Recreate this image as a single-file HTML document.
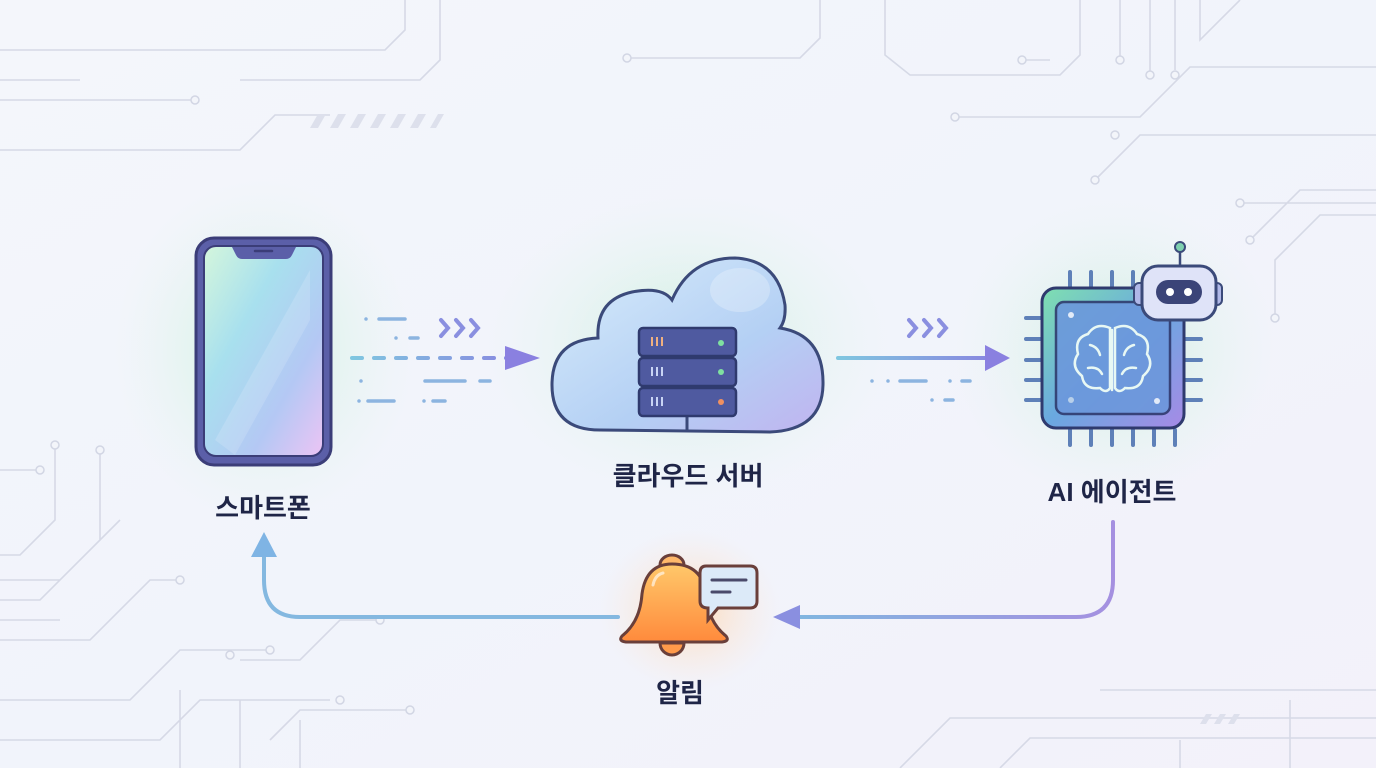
<!DOCTYPE html>
<html><head><meta charset="utf-8"><style>
html,body{margin:0;padding:0;width:1376px;height:768px;overflow:hidden;background:#f1f3fa;}
svg{position:absolute;left:0;top:0}
.lbl{position:absolute;font-family:"Liberation Sans","Noto Sans CJK KR",sans-serif;font-weight:bold;color:#1f2547;font-size:26px;text-align:center;width:240px}
</style></head><body>
<svg width="1376" height="768" viewBox="0 0 1376 768">
<defs>
<linearGradient id="bg" x1="0" y1="0" x2="1" y2="1"><stop offset="0" stop-color="#f4f6fb"/><stop offset="0.5" stop-color="#f1f4fb"/><stop offset="1" stop-color="#f3f1fa"/></linearGradient>
<radialGradient id="glowG"><stop offset="0" stop-color="#c9f0dc" stop-opacity="0.9"/><stop offset="1" stop-color="#e4f4ee" stop-opacity="0"/></radialGradient>
<radialGradient id="glowO"><stop offset="0" stop-color="#ffd7b0" stop-opacity="0.9"/><stop offset="1" stop-color="#fbe9dd" stop-opacity="0"/></radialGradient>
<linearGradient id="scr" x1="0" y1="0" x2="1" y2="1"><stop offset="0" stop-color="#d4f6dc"/><stop offset="0.35" stop-color="#a8e0ee"/><stop offset="0.7" stop-color="#b4c8f4"/><stop offset="1" stop-color="#ecc4f4"/></linearGradient>
<linearGradient id="cld" x1="0" y1="0" x2="1" y2="1"><stop offset="0" stop-color="#d8ecfb"/><stop offset="0.6" stop-color="#b4d0f4"/><stop offset="1" stop-color="#c0b4f0"/></linearGradient>
<linearGradient id="chip" x1="0" y1="0" x2="1" y2="1"><stop offset="0" stop-color="#7fe0b0"/><stop offset="0.5" stop-color="#6aa8e0"/><stop offset="1" stop-color="#a78ae6"/></linearGradient>
<linearGradient id="bell" x1="0" y1="0" x2="0" y2="1"><stop offset="0" stop-color="#ffc86a"/><stop offset="1" stop-color="#ff8a3c"/></linearGradient>
<linearGradient id="arrL" gradientUnits="userSpaceOnUse" x1="350" y1="0" x2="540" y2="0"><stop offset="0" stop-color="#7fc7e0"/><stop offset="1" stop-color="#8a7fe0"/></linearGradient>
<linearGradient id="arrR" gradientUnits="userSpaceOnUse" x1="836" y1="0" x2="1010" y2="0"><stop offset="0" stop-color="#7fc7e0"/><stop offset="1" stop-color="#8a7fe0"/></linearGradient>
<linearGradient id="arr2" gradientUnits="userSpaceOnUse" x1="780" y1="0" x2="1115" y2="0"><stop offset="0" stop-color="#7fb8e0"/><stop offset="1" stop-color="#a590e0"/></linearGradient>
</defs>
<rect width="1376" height="768" fill="url(#bg)"/>
<ellipse cx="263" cy="350" rx="150" ry="170" fill="url(#glowG)"/>
<ellipse cx="688" cy="345" rx="200" ry="150" fill="url(#glowG)"/>
<ellipse cx="1115" cy="350" rx="160" ry="150" fill="url(#glowG)"/>
<ellipse cx="690" cy="610" rx="90" ry="80" fill="url(#glowO)"/>
<g fill="none" stroke="#d6d9e6" stroke-width="1.6">
<path d="M0 100 H195 M0 150 H240 L275 115 H330 M0 80 H80 M405 0 V30 L385 50 H0"/>
<path d="M440 0 V60 L420 80 H240"/>
<path d="M625 58 H800 L820 38 V0"/>
<path d="M885 0 V55 L910 75 H1060 L1080 55 V0 M1020 60 H1050"/>
<path d="M1120 0 V60 M1150 0 V75 M1175 0 V70 M1200 0 V40 L1240 0"/>
<path d="M955 117 H1140 L1190 67 H1376 M1095 180 L1140 135 H1376 M1240 203 H1376 M1250 240 L1300 190 H1376 M1275 318 V260 L1320 215 H1376"/>
<path d="M0 470 H40 M55 445 V520 L20 555 H0 M100 450 V540 L40 600 H0 M0 580 H60 L120 520 M0 640 H90 L150 580 H180 M0 700 H130 L180 650 H270 M0 740 H160 L200 700 H330 M0 620 H60 M180 690 V768 M240 700 V768 M300 720 V768 M240 660 H300 L340 620 H380 M270 740 L300 710 H410"/>
<path d="M900 768 L950 718 H1376 M1000 768 L1030 738 H1376 M1100 690 H1376 M1180 768 V740 M1290 768 V700"/>
</g>
<g fill="#f3f5fa" stroke="#d2d6e4" stroke-width="1.5">
<circle cx="195" cy="100" r="4"/><circle cx="627" cy="58" r="4"/><circle cx="1022" cy="60" r="4"/><circle cx="1120" cy="60" r="4"/><circle cx="1150" cy="75" r="4"/><circle cx="1175" cy="75" r="4"/><circle cx="955" cy="117" r="4"/><circle cx="1115" cy="135" r="4"/><circle cx="1095" cy="180" r="4"/><circle cx="1240" cy="203" r="4"/><circle cx="1250" cy="240" r="4"/><circle cx="1275" cy="318" r="4"/><circle cx="55" cy="445" r="4"/><circle cx="100" cy="450" r="4"/><circle cx="40" cy="470" r="4"/><circle cx="180" cy="580" r="4"/><circle cx="270" cy="650" r="4"/><circle cx="410" cy="710" r="4"/><circle cx="380" cy="620" r="4"/><circle cx="230" cy="655" r="4"/><circle cx="340" cy="700" r="4"/>
</g>
<g fill="#dde0ec"><path d="M310 128 l8 -14 h8 l-8 14z M330 128 l8 -14 h8 l-8 14z M350 128 l8 -14 h8 l-8 14z M370 128 l8 -14 h8 l-8 14z M390 128 l8 -14 h8 l-8 14z M410 128 l8 -14 h8 l-8 14z M430 128 l8 -14 h6 l-8 14z"/>
<path d="M1200 724 l6 -10 h6 l-6 10z M1214 724 l6 -10 h6 l-6 10z M1228 724 l6 -10 h6 l-6 10z"/></g>

<rect x="196" y="238" width="135" height="227" rx="18" fill="#5b5fa8" stroke="#3b3d78" stroke-width="3"/>
<rect x="204" y="246" width="119" height="210" rx="12" fill="url(#scr)" stroke="#3b3d78" stroke-width="2"/>
<path d="M232 247 h64 l-4 8 q-2 4 -6 4 h-44 q-4 0 -6 -4z" fill="#5b5fa8"/>
<line x1="255" y1="251" x2="272" y2="251" stroke="#3b3d78" stroke-width="2.5" stroke-linecap="round"/>
<path d="M215 440 L310 270 L310 320 L235 455z" fill="#fff" opacity="0.15"/>

<g stroke-linecap="round" stroke-width="4" fill="none">
<line x1="352" y1="358" x2="508" y2="358" stroke="url(#arrL)" stroke-dasharray="10 12"/>
<path d="M366 319 h0 M379 319 h26 M396 338 h0 M410 338 h8 M359 401 h0 M368 401 h26 M424 401 h0 M433 401 h12 M361 381 h0 M425 381 h40 M480 381 h10" stroke="#8cb4e0" stroke-width="3.5"/>
<path d="M441 320 l7 8 l-7 8 M456 320 l7 8 l-7 8 M471 320 l7 8 l-7 8" stroke="#8a8fe0" stroke-width="4"/>
</g>
<path d="M505 346 L540 358 L505 370z" fill="#8a80e0"/>

<path d="M600 430 Q552 430 552 385 Q552 340 598 338 Q596 300 632 292 Q662 286 672 300 Q690 258 735 258 Q778 260 785 305 Q786 320 780 328 Q824 335 823 385 Q822 430 770 432 Z" fill="url(#cld)" stroke="#3b4a7a" stroke-width="3"/>
<ellipse cx="740" cy="290" rx="30" ry="22" fill="#fff" opacity="0.25"/>
<line x1="687" y1="415" x2="687" y2="432" stroke="#3b4a7a" stroke-width="3"/>
<g stroke="#2f3a6e" stroke-width="2.5">
<rect x="639" y="328" width="97" height="28" rx="4" fill="#4f5aa0"/>
<rect x="639" y="358" width="97" height="28" rx="4" fill="#4f5aa0"/>
<rect x="639" y="388" width="97" height="28" rx="4" fill="#4f5aa0"/>
</g>
<g stroke-width="2"><path d="M652 337v9 M657 337v9 M662 337v9" stroke="#f0b080"/><path d="M652 367v9 M657 367v9 M662 367v9 M652 397v9 M657 397v9 M662 397v9" stroke="#c8d4f4"/></g>
<circle cx="721" cy="343" r="3" fill="#7ee0a0"/><circle cx="721" cy="372" r="3" fill="#7ee0a0"/><circle cx="721" cy="402" r="3" fill="#f09060"/>

<line x1="838" y1="358" x2="988" y2="358" stroke="url(#arrR)" stroke-width="4" stroke-linecap="round"/>
<path d="M985 345 L1010 358 L985 371z" fill="#8a80e0"/>
<g stroke-linecap="round" fill="none">
<path d="M872 381h0 M888 381h0 M900 381h26 M950 381h0 M962 381h8 M932 400h0 M945 400h8" stroke="#8cb4e0" stroke-width="3.5"/>
<path d="M909 320 l7 8 l-7 8 M924 320 l7 8 l-7 8 M939 320 l7 8 l-7 8" stroke="#8a8fe0" stroke-width="4"/>
</g>

<g stroke="#5e80b8" stroke-width="4" stroke-linecap="round">
<path d="M1070 272v15 M1091 272v15 M1112 272v15 M1133 272v15 M1070 430v15 M1091 430v15 M1112 430v15 M1133 430v15 M1154 430v15 M1175 430v15"/>
<path d="M1026 318h16 M1026 339h16 M1026 360h16 M1026 380h16 M1026 400h16 M1185 339h16 M1185 360h16 M1185 380h16 M1185 400h16"/>
</g>
<rect x="1042" y="288" width="142" height="140" rx="14" fill="url(#chip)" stroke="#2f3a6e" stroke-width="3"/>
<rect x="1056" y="302" width="114" height="112" rx="8" fill="#6c98dc" stroke="#2f3a6e" stroke-width="2.5" opacity="0.9"/>
<circle cx="1071" cy="315" r="3" fill="#fff" opacity="0.8"/><circle cx="1157" cy="401" r="3" fill="#fff" opacity="0.8"/><circle cx="1071" cy="400" r="3" fill="#cde" opacity="0.8"/>
<g fill="none" stroke="#e8f8f4" stroke-width="2.5" stroke-linecap="round">
<path d="M1110 328 q-14 -6 -22 6 q-14 4 -10 20 q-8 12 4 22 q2 14 18 12 q6 6 10 0 z"/>
<path d="M1115 328 q14 -6 22 6 q14 4 10 20 q8 12 -4 22 q-2 14 -18 12 q-6 6 -10 0 z"/>
<path d="M1112 330 v60 M1090 345 q8 2 10 10 M1134 345 q-8 2 -10 10 M1088 368 q10 -2 14 6 M1136 368 q-10 -2 -14 6"/>
</g>
<line x1="1180" y1="250" x2="1180" y2="268" stroke="#3b4a7a" stroke-width="2.5"/>
<circle cx="1180" cy="247" r="5" fill="#7ed0b0" stroke="#3b4a7a" stroke-width="2"/>
<rect x="1134" y="283" width="12" height="22" rx="5" fill="#b0b8e8" stroke="#3b4a7a" stroke-width="2"/>
<rect x="1210" y="283" width="12" height="22" rx="5" fill="#b0b8e8" stroke="#3b4a7a" stroke-width="2"/>
<rect x="1142" y="266" width="74" height="54" rx="16" fill="#dfe3f8" stroke="#3b4a7a" stroke-width="3"/>
<rect x="1156" y="280" width="46" height="24" rx="12" fill="#3b4478"/>
<circle cx="1170" cy="292" r="4" fill="#fff"/><circle cx="1188" cy="292" r="4" fill="#fff"/>

<path d="M1113 522 V580 Q1113 617 1076 617 H800" fill="none" stroke="url(#arr2)" stroke-width="4" stroke-linecap="round"/>
<path d="M800 605 L773 617 L800 629z" fill="#8a8fe0"/>
<path d="M618 617 H300 Q264 617 264 580 V555" fill="none" stroke="#84b8e0" stroke-width="4" stroke-linecap="round"/>
<path d="M251 557 L264 532 L277 557z" fill="#7fb4e4"/>

<path d="M684 565 a12 10 0 0 0 -24 0" fill="#ffb86a" stroke="#6a3f3a" stroke-width="3"/>
<path d="M672 564 q-26 0 -30 30 q-2 28 -20 42 q-4 5 4 6 h96 q8 -1 4 -6 q-18 -14 -20 -42 q-4 -30 -34 -30z" fill="url(#bell)" stroke="#6a3f3a" stroke-width="3"/>
<path d="M660 643 a12 12 0 0 0 24 0z" fill="#ff9a4a" stroke="#6a3f3a" stroke-width="3"/>
<path d="M653 585 q2 -10 10 -12" fill="none" stroke="#fff" stroke-width="3" opacity="0.6" stroke-linecap="round"/>
<path d="M706 566 h44 q7 0 7 7 v28 q0 7 -7 7 h-32 l-10 12 v-12 q-8 0 -8 -7 v-28 q0 -7 6 -7z" fill="#dceaf8" stroke="#6a3f3a" stroke-width="3"/>
<path d="M712 580 h34 M712 592 h18" stroke="#4a4a6a" stroke-width="3" stroke-linecap="round"/>
</svg>
<div class="lbl" style="left:143px;top:488px">스마트폰</div>
<div class="lbl" style="left:568px;top:456px">클라우드 서버</div>
<div class="lbl" style="left:992px;top:472px">AI 에이전트</div>
<div class="lbl" style="left:560px;top:673px">알림</div>
</body></html>
